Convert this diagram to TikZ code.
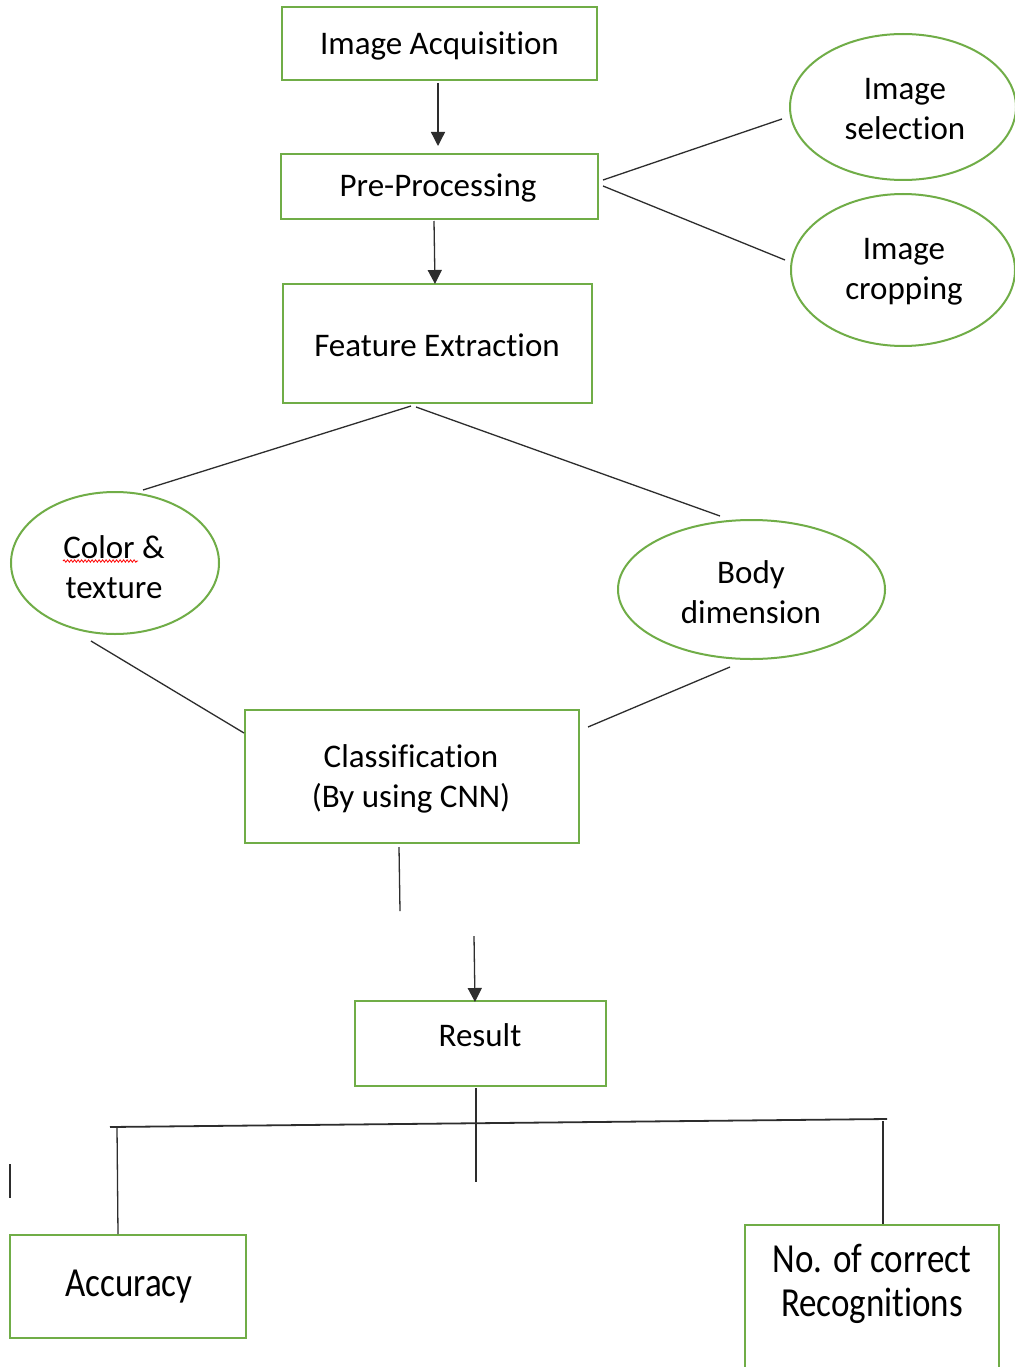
\documentclass[tikz,border=0pt]{standalone}
\usepackage{fontspec}
\setmainfont{Carlito}[Ligatures={NoCommon}]
\usetikzlibrary{arrows.meta,shapes.geometric,decorations.pathmorphing}
\definecolor{wgreen}{RGB}{112,173,71}
\definecolor{wline}{RGB}{45,45,45}
\begin{document}
\begin{tikzpicture}[x=1pt,y=-1pt,
  font=\fontsize{33}{40}\selectfont,
  gbox/.style={draw=wgreen, line width=2.6pt, rectangle, inner sep=0pt, align=center},
  gell/.style={draw=wgreen, line width=2pt, ellipse, inner sep=0pt, align=center},
  lbl/.style={inner sep=0pt, align=center},
  bigl/.style={inner sep=0pt, align=center, font=\fontsize{35}{44}\selectfont},
  conn/.style={draw=wline, line width=1.3pt},
  arr/.style={conn, -{Triangle[width=14pt,length=14pt]}}]
\useasboundingbox (0,0) rectangle (1014,1367);
\fill[white] (0,0) rectangle (1014,1367);

% boxes and ellipses
\node[gbox, minimum width=315pt, minimum height=73pt] (ia) at (439.5,43.5) {};
\node[lbl] (iat) at (439.5,46) {Image Acquisition};
\node[gbox, minimum width=317pt, minimum height=65pt] (pp) at (439.5,186.5) {};
\node[lbl] (ppt) at (438,188) {Pre-Processing};
\node[gbox, minimum width=309pt, minimum height=119pt] (fe) at (437.5,343.5) {};
\node[lbl] (fet) at (437,345) {Feature Extraction};
\node[gell, minimum width=226pt, minimum height=146pt] (is) at (903,107) {};
\node[lbl] (ist) at (905,109) {Image\\selection};
\node[gell, minimum width=224pt, minimum height=152pt] (ic) at (903,270) {};
\node[lbl] (ict) at (904,272) {Image\\cropping};
\node[gell, minimum width=208pt, minimum height=142pt] (ct) at (115,563) {};
\node[lbl] (ctt) at (114,567) {Color \&\\texture};
\node[gell, minimum width=267pt, minimum height=139pt] (bd) at (751.5,589.5) {};
\node[lbl] (bdt) at (751,592) {Body\\dimension};
\node[gbox, minimum width=334pt, minimum height=133pt] (cl) at (412,776.5) {};
\node[lbl] (clt) at (411,779) {Classification\\(By using CNN)};
\node[gbox, minimum width=251pt, minimum height=85pt] (rs) at (480.5,1043.5) {};
\node[lbl] (rst) at (480,1035) {Result};
\node[gbox, minimum width=236pt, minimum height=103pt] (ac) at (128,1286.5) {};
\node[bigl] (act) at (129,1287) {\scalebox{1}[1.18]{Accuracy}};
\node[gbox, minimum width=254pt, minimum height=170pt] (nc) at (872,1310) {};
\node[bigl] (nct) at (872,1284) {\scalebox{1}[1.18]{No. of correct}\\\scalebox{1}[1.18]{Recognitions}};

% spell-check underline
\coordinate (u1) at (63,561);
\coordinate (u2) at (138,561);
\draw[red, line width=0.8pt, decorate, decoration={snake, segment length=3.5pt, amplitude=1.2pt}] (u1) -- (u2);

% connector end points
\coordinate (a1) at (438,83);   \coordinate (a2) at (438,146);
\coordinate (b1) at (434,221);  \coordinate (b2) at (435,284);
\coordinate (s1) at (603,180);  \coordinate (s2) at (782,119);
\coordinate (c1) at (603,186);  \coordinate (c2) at (785,260);
\coordinate (f1) at (411,406);  \coordinate (f2) at (143,490);
\coordinate (g1) at (416,407);  \coordinate (g2) at (720,516);
\coordinate (h1) at (91,641);   \coordinate (h2) at (244,733);
\coordinate (k1) at (730,667);  \coordinate (k2) at (588,727);
\coordinate (m1) at (399,847);  \coordinate (m2) at (400,911);
\coordinate (r1) at (474,936);  \coordinate (r2) at (475,1002);
\coordinate (t1) at (476,1088); \coordinate (t2) at (476,1182);
\coordinate (hl) at (110,1127); \coordinate (hr) at (887,1119);
\coordinate (l1) at (117,1127); \coordinate (l2) at (118,1234);
\coordinate (q1) at (883,1121); \coordinate (q2) at (883,1224);
\coordinate (x1) at (10,1164);  \coordinate (x2) at (10,1198);

\draw[arr] (a1) -- (a2);
\draw[arr] (b1) -- (b2);
\draw[conn] (s1) -- (s2);
\draw[conn] (c1) -- (c2);
\draw[conn] (f1) -- (f2);
\draw[conn] (g1) -- (g2);
\draw[conn] (h1) -- (h2);
\draw[conn] (k1) -- (k2);
\draw[conn] (m1) -- (m2);
\draw[arr] (r1) -- (r2);
\draw[conn] (t1) -- (t2);
\draw[conn, line width=1.8pt] (hl) -- (hr);
\draw[conn] (l1) -- (l2);
\draw[conn] (q1) -- (q2);
\draw[conn] (x1) -- (x2);
\end{tikzpicture}
\end{document}
